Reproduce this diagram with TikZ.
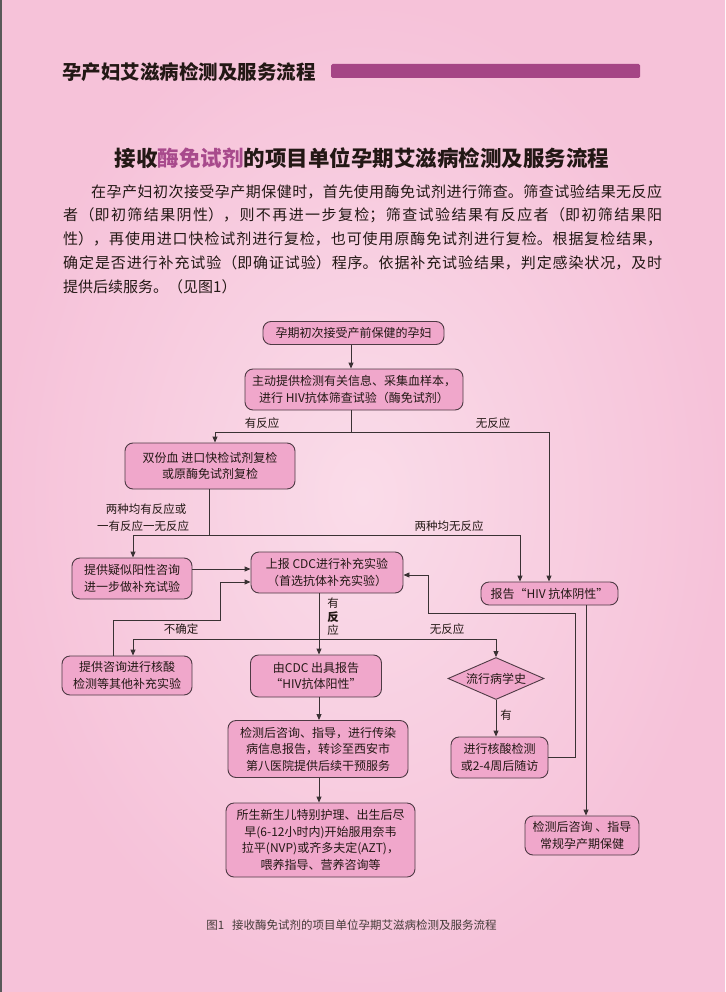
\documentclass[tikz,border=0pt]{standalone}
\usepackage{fontspec}
\setmainfont{Noto Sans CJK SC}
\usetikzlibrary{shapes.geometric,arrows.meta}
\XeTeXlinebreaklocale "zh"
\XeTeXlinebreakskip=0pt plus 1pt
\definecolor{bgedge}{HTML}{F6C2D9}
\definecolor{bgmid}{HTML}{FADCE9}
\definecolor{boxfill}{HTML}{F0A7CB}
\definecolor{boxline}{HTML}{4E3A44}
\definecolor{lineclr}{HTML}{3A3234}
\definecolor{txt}{HTML}{231815}
\definecolor{barclr}{HTML}{A54585}
\definecolor{accent}{HTML}{A84A8C}
\begin{document}
\begin{tikzpicture}[x=1pt,y=-1pt,
  box/.style={draw=boxline, fill=boxfill, rounded corners=8pt, line width=0.9pt, align=center, inner sep=0pt, text=txt, font=\fontsize{12}{16.5}\selectfont},
  arr/.style={draw=lineclr, line width=0.9pt, -{Triangle[length=6pt,width=5pt]}},
  ln/.style={draw=lineclr, line width=0.9pt},
  lbl/.style={text=txt, font=\fontsize{11.5}{14}\selectfont, inner sep=0pt},
  para/.style={anchor=west, inner sep=0pt, align=justify, text=txt, font=\fontsize{15}{18}\selectfont}]
% background
\shade[inner color=bgmid, outer color=bgedge] (0,0) rectangle (725,992);
\useasboundingbox (0,0) rectangle (725,992);
\fill[black!65] (0,0) rectangle (1.5,992);
% header
\node[anchor=west, inner sep=0pt, text=txt, font=\fontsize{19.5}{20}\selectfont\bfseries] (hdr) at (62,72) {孕产妇艾滋病检测及服务流程};
\fill[barclr, rounded corners=1.5pt] (331,64) rectangle (640,78);
% title
\node[inner sep=0pt, text=txt, font=\fontsize{21.5}{22}\selectfont\bfseries] (ttl) at (362,158) {接收\textcolor{accent}{酶免试剂}的项目单位孕期艾滋病检测及服务流程};
% paragraph
\node[para, text width=571pt] (p1) at (91,192) {\noindent\parfillskip=0pt 在孕产妇初次接受孕产期保健时，首先使用酶免试剂进行筛查。筛查试验结果无反应\par};
\node[para, text width=599pt] (p2) at (63,215) {\noindent\parfillskip=0pt 者（即初筛结果阴性），则不再进一步复检；筛查试验结果有反应者（即初筛结果阳\par};
\node[para, text width=599pt] (p3) at (63,239) {\noindent\parfillskip=0pt 性），再使用进口快检试剂进行复检，也可使用原酶免试剂进行复检。根据复检结果，\par};
\node[para, text width=599pt] (p4) at (63,263) {\noindent\parfillskip=0pt 确定是否进行补充试验（即确证试验）程序。依据补充试验结果，判定感染状况，及时\par};
\node[para, align=left] (p5) at (63,287) {提供后续服务。（见图1）};
% nodes
\node[box, minimum width=181pt, minimum height=23pt] (n1) at (353.5,333) {孕期初次接受产前保健的孕妇};
\node[box, minimum width=218pt, minimum height=41pt] (n2) at (354,389.5) {主动提供检测有关信息、采集血样本，\\进行 HIV抗体筛查试验（酶免试剂）};
\node[box, minimum width=170pt, minimum height=46pt] (n3) at (210,466) {双份血 进口快检试剂复检\\或原酶免试剂复检};
\node[box, minimum width=120pt, minimum height=41pt] (n4) at (132,578.5) {提供疑似阳性咨询\\进一步做补充试验};
\node[box, minimum width=152pt, minimum height=41pt] (n5) at (327,572.5) {上报 CDC进行补充实验\\（首选抗体补充实验）};
\node[box, minimum width=137pt, minimum height=23pt] (nneg) at (549.5,593.5) {报告“HIV 抗体阴性”};
\node[box, minimum width=130pt, minimum height=39pt] (n6) at (127,675.5) {提供咨询进行核酸\\检测等其他补充实验};
\node[box, minimum width=131pt, minimum height=42pt] (n7) at (316,676) {由CDC 出具报告\\“HIV抗体阳性”};
\node[diamond, aspect=2.3, draw=boxline, fill=boxfill, line width=0.9pt, minimum width=96pt, minimum height=42pt, inner sep=0pt, text=txt, font=\fontsize{12}{14}\selectfont] (dia) at (496,678.5) {流行病学史};
\node[box, minimum width=97pt, minimum height=41pt] (n8) at (499.5,757.5) {进行核酸检测\\或2-4周后随访};
\node[box, minimum width=180pt, minimum height=57pt] (npost) at (318,749) {检测后咨询、指导，进行传染\\病信息报告，转诊至西安市\\第八医院提供后续干预服务};
\node[box, minimum width=189pt, minimum height=74pt] (n9) at (320.5,840) {所生新生儿特别护理、出生后尽\\早(6-12小时内)开始服用奈韦\\拉平(NVP)或齐多夫定(AZT)，\\喂养指导、营养咨询等};
\node[box, minimum width=114pt, minimum height=39pt] (n10) at (582,835.5) {检测后咨询 、指导\\常规孕产期保健};
% helper coordinates
\coordinate (j1) at (351,432);
\coordinate (a1) at (215,432);
\coordinate (a2) at (549,432);
\coordinate (j2) at (209,535);
\coordinate (b1) at (133,535);
\coordinate (b2) at (520,535);
\coordinate (y569) at (0,569);
\coordinate (c1) at (113,620);
\coordinate (c2) at (220,620);
\coordinate (c3) at (220,582);
\coordinate (j3) at (319,639);
\coordinate (d1) at (133,639);
\coordinate (d2) at (496,639);
\coordinate (e1) at (575,757);
\coordinate (e2) at (575,613);
\coordinate (e3) at (428,613);
\coordinate (e4) at (428,575);
\coordinate (f1) at (586,0);
% connectors
\draw[arr] (n1.south -| j1) -- (n2.north -| j1);
\draw[ln] (n2.south -| j1) -- (j1);
\draw[arr] (j1) -- (a1) -- (n3.north -| a1);
\draw[arr] (j1) -- (a2) -- (nneg.north -| a2);
\draw[ln] (n3.south -| j2) -- (j2);
\draw[arr] (j2) -- (b1) -- (n4.north -| b1);
\draw[arr] (j2) -- (b2) -- (nneg.north -| b2);
\draw[arr] (n4.east |- y569) -- (n5.west |- y569);
\draw[arr] (n6.north -| c1) -- (c1) -- (c2) -- (c3) -- (n5.west |- c3);
\draw[arr] (n5.south -| j3) -- (n7.north -| j3);
\draw[arr] (j3) -- (d1) -- (n6.north -| d1);
\draw[arr] (j3) -- (d2) -- (dia.north -| d2);
\draw[arr] (dia.south) -- (n8.north -| dia.south);
\draw[arr] (n8.east |- e1) -- (e1) -- (e2) -- (e3) -- (e4) -- (n5.east |- e4);
\draw[arr] (nneg.south -| f1) -- (n10.north -| f1);
\draw[arr] (n7.south -| j3) -- (npost.north -| j3);
\draw[arr] (npost.south -| j3) -- (n9.north -| j3);
% labels
\node[lbl] (l1) at (262,423) {有反应};
\node[lbl] (l2) at (493,423) {无反应};
\node[lbl] (l3) at (146,509) {两种均有反应或};
\node[lbl] (l4) at (143,526) {一有反应一无反应};
\node[lbl] (l5) at (449,526) {两种均无反应};
\node[lbl, align=center, font=\fontsize{11.5}{13.5}\selectfont] (l6) at (333,617) {有\\\textbf{反}\\应};
\node[lbl] (l7) at (181,629) {不确定};
\node[lbl] (l8) at (447,629) {无反应};
\node[lbl] (l9) at (506,715) {有};
% caption
\node[inner sep=0pt, text=txt!85, font=\fontsize{11.5}{12}\selectfont] (cap) at (351.5,925) {图1\hspace{0.7em}接收酶免试剂的项目单位孕期艾滋病检测及服务流程};
\end{tikzpicture}
\end{document}
